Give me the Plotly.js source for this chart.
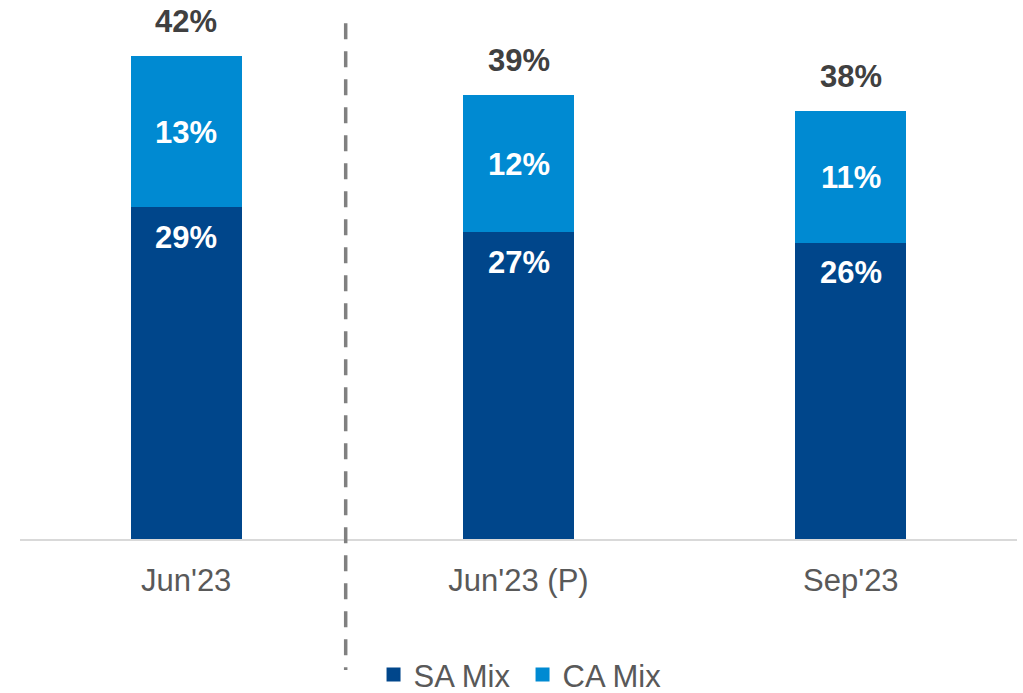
<!DOCTYPE html>
<html>
<head>
<meta charset="utf-8">
<script src="https://cdn.plot.ly/plotly-3.0.1.min.js"></script>
<style>html,body{margin:0;padding:0;background:#fff;}#chart{width:1023px;height:693px;}</style>
</head>
<body>
<div id="chart"></div>
<script>
const categories = ["Jun'23", "Jun'23 (P)", "Sep'23"];
const saMix = [29.0, 26.8, 25.9];
const caMix = [13.0, 11.8, 11.3];
const saLabels = ["29%", "27%", "26%"];
const caLabels = ["13%", "12%", "11%"];
const totalLabels = ["42%", "39%", "38%"];

const FONT = '"Liberation Sans", Arial, sans-serif';
const DARK = '#00468B';
const LIGHT = '#008AD2';

const traces = [
  {type: 'bar', name: 'SA Mix', x: categories, y: saMix, marker: {color: DARK, line: {color: DARK, width: 2}}, hoverinfo: 'skip'},
  {type: 'bar', name: 'CA Mix', x: categories, y: caMix, marker: {color: LIGHT, line: {color: LIGHT, width: 2}}, hoverinfo: 'skip'}
];

const annotations = [];
categories.forEach((c, i) => {
  const total = saMix[i] + caMix[i];
  annotations.push({x: c, y: saMix[i], xref: 'x', yref: 'y', text: saLabels[i], showarrow: false,
    yanchor: 'middle', yshift: -31, font: {family: FONT, size: 31, color: '#ffffff', weight: 'bold'}});
  annotations.push({x: c, y: saMix[i] + caMix[i] / 2, xref: 'x', yref: 'y', text: caLabels[i], showarrow: false,
    yanchor: 'middle', yshift: -1, font: {family: FONT, size: 31, color: '#ffffff', weight: 'bold'}});
  annotations.push({x: c, y: total, xref: 'x', yref: 'y', text: totalLabels[i], showarrow: false,
    yanchor: 'middle', yshift: 35.5, font: {family: FONT, size: 31, color: '#404040', weight: 'bold'}});
});

const layout = {
  width: 1023, height: 693,
  margin: {l: 20, r: 6, t: 0, b: 154, autoexpand: false},
  paper_bgcolor: '#ffffff', plot_bgcolor: '#ffffff',
  font: {family: FONT, size: 31, color: '#595959'},
  barmode: 'stack',
  bargap: 0.672,
  showlegend: true,
  legend: {orientation: 'h', traceorder: 'normal', x: 0.3546, xanchor: 'left', y: -0.252, yanchor: 'middle',
    entrywidth: 104, font: {family: FONT, size: 31, color: '#595959'}, itemclick: false, bgcolor: 'rgba(0,0,0,0)'},
  xaxis: {type: 'category', showgrid: false, zeroline: false, showline: true, linecolor: '#D9D9D9', linewidth: 2,
    ticks: '', tickfont: {family: FONT, size: 31, color: '#595959'}, ticklabelstandoff: 13, fixedrange: true, automargin: false},
  yaxis: {range: [0, 46.97], visible: false, showgrid: false, zeroline: false, fixedrange: true, automargin: false},
  shapes: [{type: 'line', xref: 'x', yref: 'paper', x0: 0.48, x1: 0.48, y0: 0.957, y1: -0.243,
    line: {color: '#808080', width: 3.5, dash: '16px,12px'}}],
  annotations: annotations
};

Plotly.newPlot('chart', traces, layout, {displayModeBar: false, staticPlot: true});
</script>
</body>
</html>
